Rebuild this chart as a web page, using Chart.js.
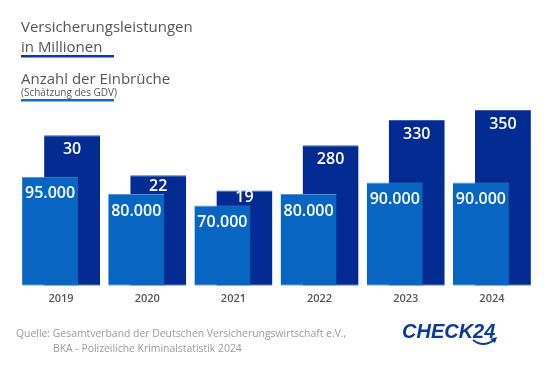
<!DOCTYPE html>
<html>
<head>
<meta charset="utf-8">
<script src="https://cdn.jsdelivr.net/npm/chart.js@4"></script>
<style>
  html, body { margin: 0; padding: 0; background: #fff; }
  #wrap { position: relative; width: 558px; height: 370px; }
</style>
</head>
<body>
<div id="wrap"><canvas id="myChart" width="558" height="370"></canvas></div>
<script>
// data
var years = ["2019", "2020", "2021", "2022", "2023", "2024"];
var burglaries = [95000, 80000, 70000, 80000, 90000, 90000];
// bar heights of the dark series (the first three are printed as 30 / 22 / 19)
var payouts = [300, 220, 190, 280, 330, 350];
var payoutLabels = ["30", "22", "19", "280", "330", "350"];
var burglaryLabels = ["95.000", "80.000", "70.000", "80.000", "90.000", "90.000"];

var lightBlue = "#0866c2";
var darkBlue = "#032b91";

var labelPlugin = {
    id: "valueLabels",
    afterDatasetsDraw: function (chart) {
        var c = chart.ctx;
        var light = chart.getDatasetMeta(0).data;
        var dark = chart.getDatasetMeta(1).data;
        c.save();
        c.fillStyle = "#fff";
        c.font = "600 16px 'Open Sans'";
        c.textAlign = "center";
        c.textBaseline = "middle";
        for (var i = 0; i < light.length; i++) {
            c.fillText(burglaryLabels[i], light[i].x, light[i].y + 17);
            var dy = Math.min(dark[i].y + 14, light[i].y - 8);
            c.fillText(payoutLabels[i], dark[i].x, dy);
        }
        c.restore();
    }
};

var textPlugin = {
    id: "texts",
    afterDraw: function (chart) {
        var c = chart.ctx;
        c.save();
        c.textAlign = "left";
        c.textBaseline = "alphabetic";
        c.fillStyle = "#555";
        c.font = "15px 'Open Sans'";
        c.fillText("Versicherungsleistungen", 21, 31.5);
        c.fillText("in Millionen", 21, 51.5);
        c.fillStyle = "#12389e";
        c.fillRect(21, 55, 93, 2.5);
        c.fillStyle = "#555";
        c.fillText("Anzahl der Einbrüche", 21, 84);
        c.font = "10px 'Open Sans'";
        c.fillText("(Schätzung des GDV)", 21, 95.5);
        c.fillStyle = "#0a6fd0";
        c.fillRect(21, 99, 93, 2.5);

        // source
        c.fillStyle = "#9a9a9a";
        c.font = "10.4px 'Open Sans'";
        c.fillText("Quelle: Gesamtverband der Deutschen Versicherungswirtschaft e.V.,", 16, 337);
        c.fillText("BKA - Polizeiliche Kriminalstatistik 2024", 53, 352);

        // logo
        c.fillStyle = "#0b3a9a";
        c.font = "italic bold 20px 'Liberation Sans'";
        c.fillText("CHECK24", 402, 338);
        c.strokeStyle = "#0b3a9a";
        c.lineWidth = 2;
        c.beginPath();
        c.moveTo(473, 340);
        c.quadraticCurveTo(483, 348, 494, 340);
        c.stroke();
        c.beginPath();
        c.moveTo(497, 337);
        c.lineTo(490, 339);
        c.lineTo(495, 343);
        c.closePath();
        c.fill();
        c.restore();
    }
};

var ctx = document.getElementById("myChart");

var myChart = new Chart(ctx, {
    type: "bar",
    data: {
        labels: years,
        datasets: [{
            label: "Anzahl der Einbrüche",
            data: burglaries,
            yAxisID: "y",
            backgroundColor: lightBlue,
            borderColor: "#5590d6",
            borderWidth: { top: 1, bottom: 1, left: 0, right: 0 },
            borderSkipped: false,
            categoryPercentage: 0.5106,
            barPercentage: 2.545
        }, {
            label: "Versicherungsleistungen in Millionen",
            data: payouts,
            yAxisID: "y2",
            backgroundColor: darkBlue,
            borderColor: "#3a5fb4",
            borderWidth: { top: 1, bottom: 1, left: 0, right: 0 },
            borderSkipped: false,
            categoryPercentage: 0.5106,
            barPercentage: 2.545
        }]
    },
    options: {
        responsive: false,
        animation: false,
        layout: {
            padding: { left: 18, right: 23, top: 100, bottom: 59 }
        },
        plugins: {
            legend: { display: false },
            tooltip: { enabled: false }
        },
        scales: {
            x: {
                grid: { display: false, drawTicks: false },
                border: { display: false },
                ticks: {
                    color: "#555",
                    padding: 6,
                    font: { family: "'Open Sans'", size: 11, weight: "600" }
                }
            },
            y: { display: false, min: 0, max: 162000 },
            y2: { display: false, min: 0, max: 370 }
        }
    },
    plugins: [labelPlugin, textPlugin]
});
</script>
</body>
</html>
